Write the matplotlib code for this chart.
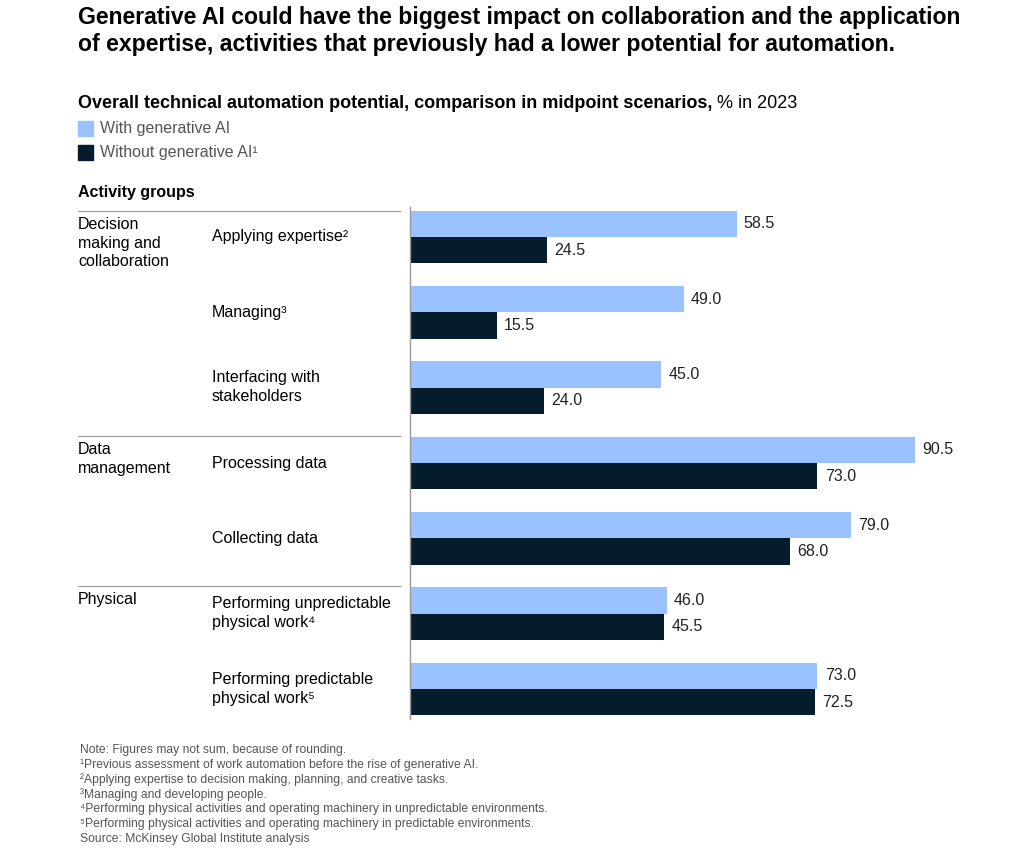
import matplotlib.pyplot as plt

plt.rcParams['font.family'] = ['Liberation Sans', 'DejaVu Sans']

activities = ['Applying expertise²', 'Managing³', 'Interfacing with\nstakeholders',
              'Processing data', 'Collecting data',
              'Performing unpredictable\nphysical work⁴', 'Performing predictable\nphysical work⁵']
with_gen = [58.5, 49.0, 45.0, 90.5, 79.0, 46.0, 73.0]
without_gen = [24.5, 15.5, 24.0, 73.0, 68.0, 45.5, 72.5]
groups = ['Decision\nmaking and\ncollaboration', 'Data\nmanagement', 'Physical']
group_start = [0, 3, 5]

light = '#99c2ff'
dark = '#051c2c'
W, H = 1024, 855

def fx(x):
    return x / W

def fy(y):
    return 1 - y / H

fig = plt.figure(figsize=(10.24, 8.55), dpi=100)
ax = fig.add_axes([fx(410), fy(722), fx(1024 - 410), (722 - 205) / H])
pos = list(range(len(activities)))
ax.barh([p - 0.175 for p in pos], with_gen, height=0.35, color=light)
ax.barh([p + 0.175 for p in pos], without_gen, height=0.35, color=dark)
for p, a, b in zip(pos, with_gen, without_gen):
    ax.text(a + 1.3, p - 0.175, f'{a:.1f}', va='center', fontsize=11.5, color='#222222')
    ax.text(b + 1.3, p + 0.175, f'{b:.1f}', va='center', fontsize=11.5, color='#222222')
ax.set_xlim(0, 110)
ax.set_ylim(6.44, -0.425)
ax.axis('off')
ax.plot([0, 0], [6.4, -0.4], color='#999999', lw=1, clip_on=False)

# titles
fig.text(fx(78), fy(6), 'Generative AI could have the biggest impact on collaboration and the application\n'
         'of expertise, activities that previously had a lower potential for automation.',
         fontsize=16.6, fontweight='bold', va='top', linespacing=1.2)
t = fig.text(fx(78), fy(103), 'Overall technical automation potential, comparison in midpoint scenarios,',
             fontsize=13, fontweight='bold', va='center')
fig.canvas.draw()
ext = t.get_window_extent()
fig.text(fx(ext.x1 + 5), fy(103), '% in 2023', fontsize=13, va='center')
fig.patches.append(plt.Rectangle((fx(78), fy(136)), 15 / W, 15 / H, color=light, transform=fig.transFigure))
fig.patches.append(plt.Rectangle((fx(78), fy(160)), 15 / W, 15 / H, color=dark, transform=fig.transFigure))
fig.text(fx(100), fy(129), 'With generative AI', fontsize=11.5, color='#555555', va='center')
fig.text(fx(100), fy(153), 'Without generative AI¹', fontsize=11.5, color='#555555', va='center')
fig.text(fx(78), fy(192), 'Activity groups', fontsize=11.5, fontweight='bold', va='center')

# group separators and labels
sep_y = [211, 436, 586]
for g, s, y in zip(groups, group_start, sep_y):
    fig.add_artist(plt.Line2D([fx(78), fx(400)], [fy(y), fy(y)], color='#999999', lw=0.8))
    fig.text(fx(78), fy(y + 6), g, fontsize=11.5, va='top', linespacing=1.3)

# activity labels
label_y = [237, 312, 387, 463, 538, 613, 689]
for lab, y in zip(activities, label_y):
    fig.text(fx(212), fy(y), lab, fontsize=11.5, va='center', linespacing=1.3)

notes = ['Note: Figures may not sum, because of rounding.',
         '¹Previous assessment of work automation before the rise of generative AI.',
         '²Applying expertise to decision making, planning, and creative tasks.',
         '³Managing and developing people.',
         '⁴Performing physical activities and operating machinery in unpredictable environments.',
         '⁵Performing physical activities and operating machinery in predictable environments.',
         'Source: McKinsey Global Institute analysis']
for i, n in enumerate(notes):
    fig.text(fx(80), fy(750 + i * 14.8), n, fontsize=8.7, color='#555555', va='center')

plt.savefig('out.png', dpi=100)
